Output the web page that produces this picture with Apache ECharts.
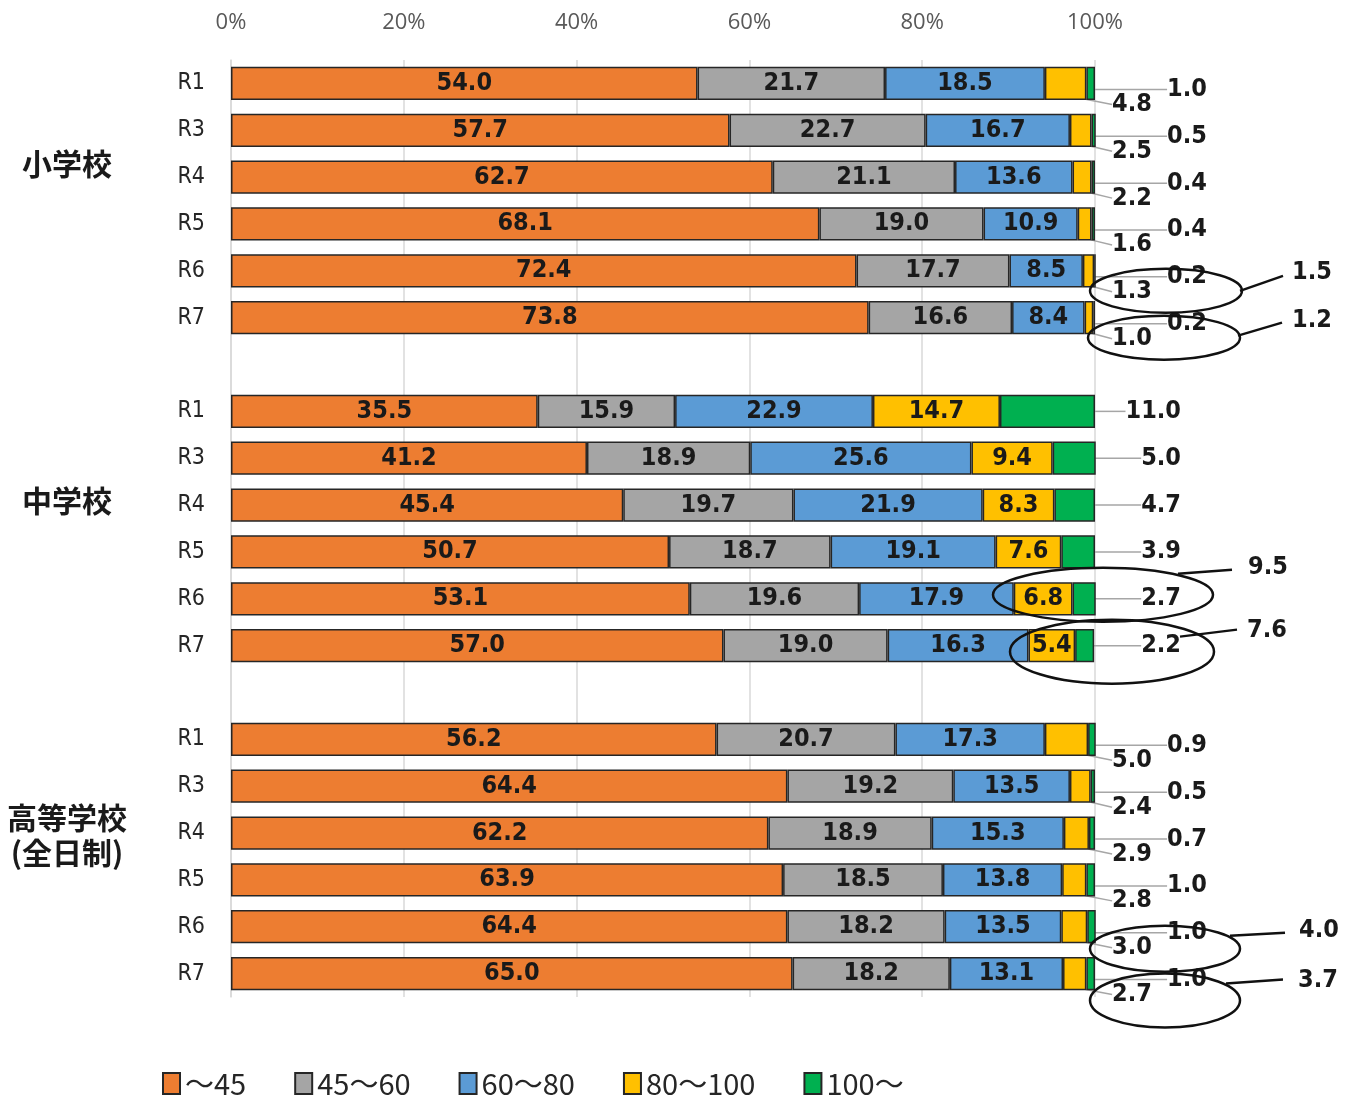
<!DOCTYPE html>
<html><head><meta charset="utf-8">
<script src="https://cdn.jsdelivr.net/npm/echarts@6/dist/echarts.min.js"></script>
<style>html,body{margin:0;padding:0;background:#fff}#c{width:1357px;height:1098px}</style>
</head><body><div id="c"></div>
<script>
// ---- data ----
const years = ['R1', 'R3', 'R4', 'R5', 'R6', 'R7'];
const groupNames = ['小学校', '中学校', '高等学校\n(全日制)'];
const seriesNames = ['～45', '45～60', '60～80', '80～100', '100～'];
// each row: [～45, 45～60, 60～80, 80～100, 100～]
const elementary = [
  [54.0, 21.7, 18.5, 4.8, 1.0],
  [57.7, 22.7, 16.7, 2.5, 0.5],
  [62.7, 21.1, 13.6, 2.2, 0.4],
  [68.1, 19.0, 10.9, 1.6, 0.4],
  [72.4, 17.7, 8.5, 1.3, 0.2],
  [73.8, 16.6, 8.4, 1.0, 0.2]
];
const juniorHigh = [
  [35.5, 15.9, 22.9, 14.7, 11.0],
  [41.2, 18.9, 25.6, 9.4, 5.0],
  [45.4, 19.7, 21.9, 8.3, 4.7],
  [50.7, 18.7, 19.1, 7.6, 3.9],
  [53.1, 19.6, 17.9, 6.8, 2.7],
  [57.0, 19.0, 16.3, 5.4, 2.2]
];
const highSchool = [
  [56.2, 20.7, 17.3, 5.0, 0.9],
  [64.4, 19.2, 13.5, 2.4, 0.5],
  [62.2, 18.9, 15.3, 2.9, 0.7],
  [63.9, 18.5, 13.8, 2.8, 1.0],
  [64.4, 18.2, 13.5, 3.0, 1.0],
  [65.0, 18.2, 13.1, 2.7, 1.0]
];
// rows circled in the original, [groupIndex, rowIndex]
const circledRows = [[0, 4], [0, 5], [1, 4], [1, 5], [2, 4], [2, 5]];

// ---- styles ----
const colors = ['#ED7D31', '#A5A5A5', '#5B9BD5', '#FFC000', '#00B050'];
const numFont = "'Liberation Sans Narrow','DejaVu Sans Condensed','Roboto Condensed','Liberation Sans',sans-serif";
const cjkFont = "'Noto Sans CJK JP','Noto Sans',sans-serif";

// ---- build slots (one blank slot between groups) ----
const groups = [elementary, juniorHigh, highSchool];
const slotCats = [], slotGroup = [], slotRow = [];
groups.forEach((g, gi) => {
  if (gi > 0) { slotCats.push(''); slotGroup.push(-1); slotRow.push(-1); }
  g.forEach((row, ri) => { slotCats.push(years[ri]); slotGroup.push(gi); slotRow.push(ri); });
});
const groupAxisData = slotCats.map(() => '');
const groupRich = ['a', 'b', 'c'];
groups.forEach((g, gi) => {
  const idx = slotGroup.indexOf(gi) + 2;
  groupAxisData[idx] = String(gi);
});

const chart = echarts.init(document.getElementById('c'));
const x100 = () => chart.convertToPixel({ xAxisIndex: 0 }, 100);

const series = seriesNames.map((name, k) => {
  const s = {
    name, type: 'bar', stack: 'total', barWidth: '71%',
    data: slotGroup.map((g, i) => g < 0 ? '-' : groups[g][slotRow[i]][k]),
    itemStyle: { color: colors[k], borderColor: '#262626', borderWidth: 1.5 },
    label: {
      show: true, position: 'inside', color: '#1a1a1a', fontFamily: numFont,
      fontSize: 25, fontWeight: 'bold',
      formatter: p => Number(p.value).toFixed(1)
    },
    labelLine: { show: true, lineStyle: { color: '#a6a6a6', width: 1.5 } }
  };
  if (k === 3) {
    s.labelLayout = p => {
      if (slotGroup[p.dataIndex] === 1) return {};
      const cy = p.rect.y + p.rect.height / 2;
      return { x: x100() + 37, y: cy + 21, align: 'center', verticalAlign: 'middle' };
    };
  }
  if (k === 4) {
    s.labelLayout = p => {
      const cy = p.rect.y + p.rect.height / 2;
      if (slotGroup[p.dataIndex] === 1) {
        return { x: x100() + 86, y: cy, align: 'right', verticalAlign: 'middle' };
      }
      return { x: x100() + 92, y: cy + 6, align: 'center', verticalAlign: 'middle' };
    };
  }
  return s;
});

chart.setOption({
  animation: false,
  backgroundColor: '#fff',
  grid: { left: 231, right: 262, top: 60, bottom: 101 },
  legend: {
    data: seriesNames, left: 157, top: 1064, icon: 'rect',
    itemWidth: 17, itemHeight: 21, itemGap: 48,
    textStyle: { fontFamily: cjkFont, fontSize: 29, color: '#262626' }
  },
  xAxis: {
    type: 'value', position: 'top', min: 0, max: 100, interval: 20,
    axisLine: { show: false }, axisTick: { show: false },
    axisLabel: { formatter: '{value}%', color: '#595959', fontSize: 22, margin: 26, fontFamily: "'Open Sans',sans-serif" },
    splitLine: { lineStyle: { color: '#d9d9d9', width: 1.5 } }
  },
  yAxis: [{
    type: 'category', inverse: true, data: slotCats,
    axisLine: { lineStyle: { color: '#d9d9d9', width: 1.5 } }, axisTick: { show: false },
    axisLabel: { interval: 0, margin: 26, color: '#262626', fontSize: 23, fontFamily: numFont }
  }, {
    type: 'category', inverse: true, data: groupAxisData, position: 'left',
    axisLine: { show: false }, axisTick: { show: false },
    axisLabel: {
      interval: 0, margin: 164, align: 'center',
      formatter: v => {
        if (v === '') return '';
        const gi = Number(v);
        return groupNames[gi].split('\n').map((t, li) => '{' + groupRich[gi] + (li === 0 ? '' : '2') + '|' + t + '}').join('\n');
      },
      rich: {
        a: { fontFamily: cjkFont, fontSize: 30, fontWeight: 'bold', color: '#1a1a1a', padding: [0, 0, 28, 0] },
        b: { fontFamily: cjkFont, fontSize: 30, fontWeight: 'bold', color: '#1a1a1a', padding: [0, 0, 8, 0] },
        c: { fontFamily: cjkFont, fontSize: 30, fontWeight: 'bold', color: '#1a1a1a', lineHeight: 40, padding: [10, 0, 0, 0] },
        c2: { fontFamily: cjkFont, fontSize: 30, fontWeight: 'bold', color: '#1a1a1a', lineHeight: 40 }
      }
    }
  }],
  series
});

// ---- circled annotations (sum of 80～100 and 100～) ----
// layout relative to (100% x, bar centre y): ellipse centre, radii, connector, text
const calloutLayout = [
  { dx: 71, dy: 20, rx: 76, ry: 22, l: [145, 20, 188, 5], t: [217, 2] },
  { dx: 69, dy: 20, rx: 76, ry: 22, l: [143, 18, 187, 5], t: [217, 3] },
  { dx: 8, dy: -4, rx: 110, ry: 27, l: [83, -25, 137, -29], t: [173, -31] },
  { dx: 17, dy: 6, rx: 102, ry: 32, l: [85, -9, 142, -16], t: [172, -15] },
  { dx: 70, dy: 22, rx: 75, ry: 23, l: [135, 9, 190, 6], t: [224, 4] },
  { dx: 70, dy: 27, rx: 75, ry: 27, l: [131, 10, 188, 6], t: [223, 7] }
];
const elements = [];
circledRows.forEach(([gi, ri], n) => {
  const slot = slotGroup.findIndex((g, i) => g === gi && slotRow[i] === ri);
  const [px, py] = chart.convertToPixel({ xAxisIndex: 0, yAxisIndex: 0 }, [100, slot]);
  const L = calloutLayout[n];
  const row = groups[gi][ri];
  const sum = (row[3] + row[4]).toFixed(1);
  elements.push({
    type: 'ellipse', shape: { cx: px + L.dx, cy: py + L.dy, rx: L.rx, ry: L.ry },
    style: { fill: 'none', stroke: '#111', lineWidth: 2.5 }, z: 100
  });
  elements.push({
    type: 'line', shape: { x1: px + L.l[0], y1: py + L.l[1], x2: px + L.l[2], y2: py + L.l[3] },
    style: { stroke: '#111', lineWidth: 2.5 }, z: 100
  });
  elements.push({
    type: 'text', x: px + L.t[0], y: py + L.t[1],
    style: { text: sum, fill: '#1a1a1a', font: 'bold 25px ' + numFont, align: 'center', verticalAlign: 'middle' }, z: 100
  });
});
chart.setOption({ graphic: elements });
</script>
</body></html>
